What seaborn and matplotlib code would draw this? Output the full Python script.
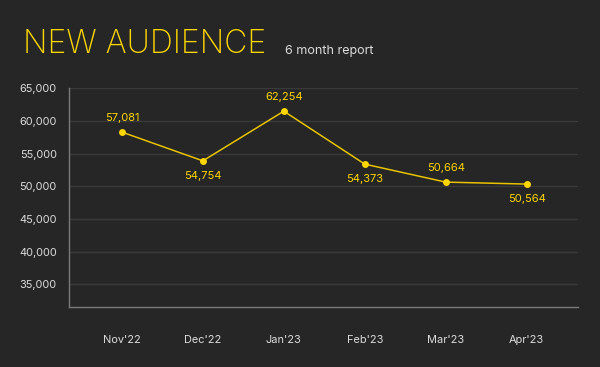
import matplotlib
matplotlib.use("Agg")
import matplotlib.pyplot as plt
import seaborn as sns
import pandas as pd

months = ["Nov'22", "Dec'22", "Jan'23", "Feb'23", "Mar'23", "Apr'23"]
# plotted positions
audience = [58300, 53900, 61500, 53400, 50650, 50350]
# value labels as printed on the chart
audience_labels = ["57,081", "54,754", "62,254", "54,373", "50,664", "50,564"]
label_above = [True, False, True, False, True, False]
y_ticks = [35000, 40000, 45000, 50000, 55000, 60000, 65000]

bg = "#262626"
yellow = "#ffd700"
line_yellow = "#e8c300"
text_grey = "#dcdcdc"

sns.set_theme(style="dark")
plt.rcParams["font.family"] = ["Inter", "DejaVu Sans"]

df = pd.DataFrame({"month": months, "audience": audience})
df["x"] = range(len(df))

fig = plt.figure(figsize=(6, 3.67), dpi=100, facecolor=bg)
ax = fig.add_axes([0.1155, 0.1627, 0.8473, 0.5967])
ax.set_facecolor(bg)

sns.lineplot(data=df, x="x", y="audience", ax=ax, color=line_yellow, linewidth=1.1,
             marker="o", markersize=5, markeredgewidth=0, markerfacecolor=yellow)

for x, y, lab, above in zip(df["x"], df["audience"], audience_labels, label_above):
    ax.annotate(lab, (x, y), xytext=(0, 10 if above else -11), textcoords="offset points",
                ha="center", va="center", color=yellow, fontsize=8)

ax.set_xlim(-0.65, 5.63)
ax.set_ylim(31500, 65000)
ax.set_xticks(df["x"])
ax.set_xticklabels(months)
ax.set_yticks(y_ticks)
ax.set_yticklabels([f"{v:,}" for v in y_ticks])
ax.tick_params(axis="both", length=0, colors=text_grey, labelsize=7.9)
ax.tick_params(axis="y", pad=9)
ax.tick_params(axis="x", pad=20)
ax.set_xlabel("")
ax.set_ylabel("")

ax.grid(axis="y", color="#3a3a3a", linewidth=1)
ax.grid(axis="x", visible=False)
ax.set_axisbelow(True)
for side in ["top", "right"]:
    ax.spines[side].set_visible(False)
for side in ["left", "bottom"]:
    ax.spines[side].set_visible(True)
    ax.spines[side].set_color("#7a7a7a")
    ax.spines[side].set_linewidth(1)

fig.text(0.038, 0.880, "NEW AUDIENCE", color=yellow, fontsize=23, family=["Inter", "DejaVu Sans"],
         fontweight="light", va="center", ha="left")
fig.text(0.475, 0.862, "6 month report", color=text_grey, fontsize=9, va="center", ha="left")

fig.savefig("out.png", dpi=100, facecolor=bg)
